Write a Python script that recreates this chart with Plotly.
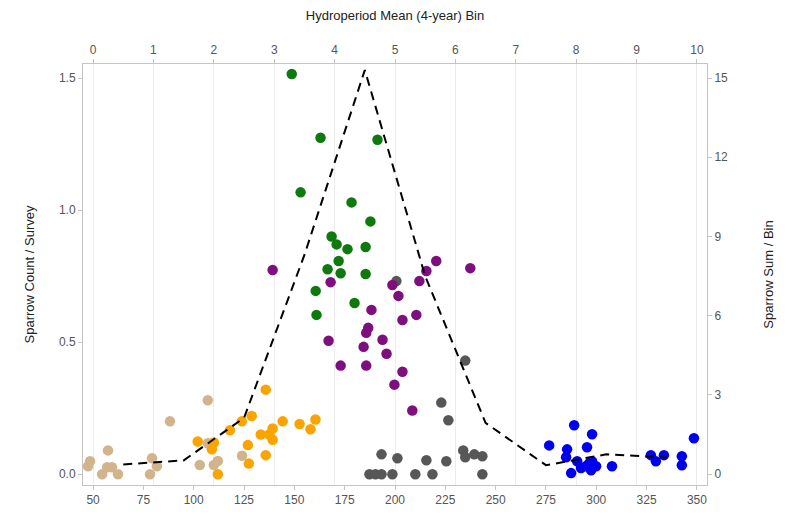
import plotly.graph_objects as go

# Per-survey sparrow counts, grouped by hydroperiod class
tan_h = [47.5, 48.5, 54.5, 57.0, 57.4, 59.4, 62.4, 78.3, 79.3, 81.7, 88.2, 107.0, 107.0, 103.0, 110.0, 112.0, 124.0]
tan_v = [0.03, 0.049, 0.0, 0.026, 0.09, 0.026, 0.0, 0.0, 0.06, 0.03, 0.2, 0.28, 0.117, 0.035, 0.035, 0.05, 0.07]

orange_h = [135.8, 102.0, 109.0, 112.0, 118.0, 123.9, 128.8, 126.9, 127.4, 133.3, 135.8, 139.2, 139.2,
            144.2, 152.6, 158.0, 160.5, 110.0, 137.5]
orange_v = [0.32, 0.124, 0.094, 0.0, 0.166, 0.20, 0.22, 0.11, 0.04, 0.15, 0.072, 0.173, 0.13,
            0.20, 0.19, 0.17, 0.207, 0.12, 0.15]

green_h = [148.7, 163.0, 191.3, 153.1, 178.4, 187.8, 168.5, 171.0, 176.4, 185.4, 172.0, 166.5, 173.0,
           185.4, 160.6, 179.9, 161.0]
green_v = [1.515, 1.274, 1.266, 1.067, 1.029, 0.957, 0.90, 0.87, 0.852, 0.86, 0.807, 0.776, 0.761,
           0.758, 0.694, 0.648, 0.603]

gray_h = [200.7, 234.9, 223.0, 226.5, 193.3, 201.2, 215.6, 225.5, 233.9, 234.9, 239.4, 243.4,
          187.3, 190.3, 193.3, 198.7, 210.1, 218.6, 243.4]
gray_v = [0.731, 0.43, 0.271, 0.204, 0.075, 0.06, 0.053, 0.049, 0.09, 0.064, 0.075, 0.068,
          0.0, 0.0, 0.0, 0.0, 0.0, 0.0, 0.0]

purple_h = [220.5, 237.4, 215.6, 212.1, 168.0, 198.7, 201.7, 188.3, 210.6, 203.7, 186.7, 185.7, 167.0,
            193.8, 184.4, 195.8, 173.0, 185.7, 203.7, 199.7, 208.6, 139.2]
purple_v = [0.807, 0.78, 0.769, 0.731, 0.727, 0.716, 0.675, 0.622, 0.603, 0.584, 0.554, 0.535, 0.505,
            0.509, 0.482, 0.456, 0.411, 0.411, 0.388, 0.339, 0.241, 0.773]

blue_h = [289.0, 297.9, 276.6, 285.5, 295.4, 285.0, 348.5, 327.1, 333.6, 329.6, 342.5, 342.5, 307.8,
          287.5, 292.4, 296.4, 297.9, 294.9, 299.9, 297.4, 290.5]
blue_v = [0.185, 0.151, 0.109, 0.094, 0.102, 0.064, 0.136, 0.072, 0.072, 0.049, 0.068, 0.034, 0.03,
          0.004, 0.023, 0.041, 0.049, 0.03, 0.03, 0.015, 0.049]

# Summed sparrows per hydroperiod bin (bin centres on the top axis)
bin_centres = [0.5, 1.5, 2.5, 3.5, 4.5, 5.5, 6.5, 7.5, 8.5, 9.5]
bin_sums = [0.37, 0.52, 2.13, 8.3, 15.3, 7.5, 1.94, 0.34, 0.75, 0.63]

groups = [
    (tan_h, tan_v, "#D2B48C"),
    (orange_h, orange_v, "#FBA400"),
    (green_h, green_v, "#0E7A0E"),
    (gray_h, gray_v, "#575757"),
    (purple_h, purple_v, "#7E0F7E"),
    (blue_h, blue_v, "#0000F0"),
]

fig = go.Figure()
for hs, vs, col in groups:
    fig.add_trace(go.Scatter(
        x=hs, y=vs, mode="markers", xaxis="x", yaxis="y",
        marker=dict(size=10.5, color=col, line=dict(width=0)),
        showlegend=False, hoverinfo="skip",
    ))

fig.add_trace(go.Scatter(
    x=bin_centres, y=bin_sums, mode="lines", xaxis="x2", yaxis="y2",
    line=dict(color="black", width=2, dash="9px,6px"),
    showlegend=False, hoverinfo="skip",
))

tick_font = dict(family="Liberation Sans, Arial, sans-serif", size=12, color="#555555")
title_font = dict(family="Liberation Sans, Arial, sans-serif", size=13, color="#222222")
frame = "#c4c4c4"

fig.update_layout(
    width=788, height=519,
    margin=dict(l=83, r=81, t=64, b=32),
    paper_bgcolor="white", plot_bgcolor="white",
    xaxis=dict(
        range=[45, 355], tickvals=[50, 75, 100, 125, 150, 175, 200, 225, 250, 275, 300, 325, 350],
        showgrid=False, zeroline=False, showline=True, linecolor=frame, linewidth=1, mirror=False,
        ticks="outside", ticklen=4, tickcolor=frame, tickfont=tick_font,
    ),
    xaxis2=dict(
        overlaying="x", side="top", anchor="y2",
        range=[-1 / 6, 61 / 6], tickvals=list(range(0, 11)),
        showgrid=True, gridcolor="#ececec", gridwidth=1, zeroline=False,
        showline=True, linecolor=frame, linewidth=1,
        ticks="outside", ticklen=4, tickcolor=frame, tickfont=tick_font,
        title=dict(text="Hydroperiod Mean (4-year) Bin", font=title_font, standoff=19),
    ),
    yaxis=dict(
        range=[-0.041, 1.553], tickvals=[0.0, 0.5, 1.0, 1.5], tickformat=".1f",
        showgrid=False, zeroline=False, showline=True, linecolor=frame, linewidth=1,
        ticks="outside", ticklen=4, tickcolor=frame, tickfont=tick_font,
        title=dict(text="Sparrow Count / Survey", font=title_font, standoff=21),
    ),
    yaxis2=dict(
        overlaying="y", side="right", anchor="x2",
        range=[-0.41, 15.53], tickvals=[0, 3, 6, 9, 12, 15],
        showgrid=False, zeroline=False, showline=True, linecolor=frame, linewidth=1,
        ticks="outside", ticklen=4, tickcolor=frame, tickfont=tick_font,
        title=dict(text="Sparrow Sum / Bin", font=title_font, standoff=36),
    ),
)

fig.write_html("out.html")
